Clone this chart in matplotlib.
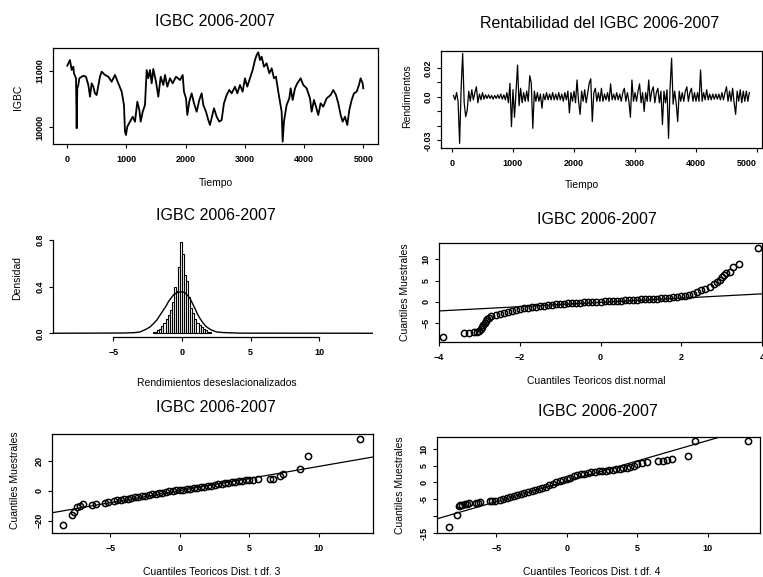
import numpy as np
import matplotlib.pyplot as plt

plt.rcParams['font.family'] = ['Liberation Sans', 'DejaVu Sans']

# ---- IGBC 2006-2007 ----
igbc_t = [5, 50, 79, 107, 118, 152, 163, 174, 191, 208, 275, 320, 360, 388, 416, 444, 472, 500, 556, 585,
          641, 697, 753, 809, 865, 922, 961, 978, 995, 1017, 1062, 1108, 1147, 1186, 1220, 1243, 1277, 1315, 1344, 1371,
          1400, 1428, 1455, 1501, 1540, 1580, 1624, 1653, 1692, 1737, 1782, 1838, 1906, 1951, 1973, 2007, 2029, 2062, 2102, 2142,
          2187, 2231, 2271, 2299, 2344, 2383, 2411, 2479, 2524, 2568, 2608, 2647, 2693, 2737, 2777, 2833,
          2872, 2917, 2962, 3002, 3040, 3086, 3131, 3170, 3199, 3226, 3255, 3283, 3322, 3367, 3412, 3452, 3491, 3524, 3563, 3592,
          3620, 3637, 3659, 3704, 3749, 3772, 3806, 3845, 3884, 3941, 3985, 4042, 4098, 4126, 4165, 4199, 4238, 4277, 4322, 4379,
          4446, 4491, 4536, 4575, 4615, 4649, 4688, 4727, 4761, 4801, 4840, 4885, 4924, 4952, 4986, 4997]
igbc_v = [11095, 11196, 11018, 11077, 10958, 10870, 9977, 10690, 10750, 10870, 10916, 10898, 10750, 10541, 10780, 10720, 10601, 10571, 10898, 10988,
          10929, 10898, 10809, 10929, 10780, 10631, 10393, 9916, 9857, 10006, 10095, 10184, 10095, 10452, 10303, 10095, 10273, 10393, 11018, 10870,
          11018, 10780, 11036, 10809, 10541, 10898, 10750, 10929, 10720, 10870, 10780, 10898, 10839, 10929, 10631, 10512, 10214, 10452, 10601, 10423,
          10273, 10482, 10601, 10393, 10273, 10125, 10036, 10334, 10184, 10095, 10125, 10423, 10571, 10661, 10601, 10720,
          10601, 10750, 10631, 10870, 10720, 10870, 11018, 11196, 11286, 11334, 11196, 11256, 11077, 11137, 10958, 11048, 10870, 10898, 10631, 10452,
          10273, 9737, 10095, 10393, 10512, 10690, 10482, 10690, 10780, 10870, 10750, 10690, 10512, 10273, 10482, 10363, 10214, 10423, 10363, 10512,
          10571, 10661, 10571, 10423, 10214, 10095, 10184, 10036, 10303, 10482, 10601, 10631, 10750, 10870, 10780, 10690]

# ---- rentabilidad, un valor cada 25 periodos ----
ret_paso = 25
ret_v = [0.001, -0.002, 0.003, -0.003, -0.032, 0.006, 0.030, -0.004, -0.0136, -0.009,
         0.004, -0.003, 0.005, -0.002, 0.003, 0.007, -0.004, 0.002, -0.002, 0.003,
         -0.0015, 0.0015, -0.001, 0.0015, -0.001, 0.001, -0.0015, 0.001, -0.001, 0.0015,
         -0.001, 0.002, -0.0015, 0.0015, -0.002, 0.003, -0.004, 0.0094, -0.0205, 0.005,
         -0.014, 0.004, 0.022, -0.006, 0.006, -0.004, 0.003, -0.003, 0.004, -0.003,
         0.0147, 0.0095, -0.0216, 0.004, -0.003, 0.003, -0.003, 0.002, -0.0078, 0.002,
         -0.002, 0.003, -0.002, 0.002, -0.002, 0.003, -0.002, 0.002, -0.002, 0.003,
         -0.002, 0.002, -0.003, 0.003, -0.002, 0.004, -0.011, 0.003, -0.003, 0.004,
         -0.004, 0.0117, -0.003, -0.012, 0.004, -0.003, 0.005, -0.004, 0.003, 0.0095,
         0.0125, -0.017, 0.003, 0.006, -0.003, 0.003, -0.003, 0.006, -0.003, 0.002,
         -0.002, 0.003, -0.003, 0.009, -0.002, 0.002, -0.002, 0.003, -0.002, 0.002,
         -0.003, 0.003, 0.006, -0.003, 0.003, -0.003, -0.014, 0.0117, -0.003, 0.003,
         -0.003, 0.004, 0.009, -0.004, 0.003, -0.010, 0.003, -0.003, 0.0117, -0.003,
         0.004, 0.007, -0.004, 0.003, 0.006, -0.004, 0.004, -0.019, 0.004, -0.004,
         0.005, -0.0285, 0.006, 0.0267, -0.005, 0.004, -0.004, -0.017, 0.004, -0.003,
         0.003, -0.003, 0.004, 0.007, -0.003, 0.003, 0.006, -0.003, 0.003, -0.003,
         0.003, -0.003, 0.0186, -0.003, 0.003, -0.002, 0.005, -0.002, 0.002, -0.002,
         0.002, -0.0015, 0.002, -0.0015, 0.002, -0.002, 0.003, -0.002, 0.003, 0.007,
         -0.003, 0.004, -0.003, 0.006, -0.004, -0.012, 0.004, -0.003, 0.005, -0.004,
         0.004, -0.003, 0.004, -0.003, 0.003]

# ---- histograma de rendimientos desestacionalizados ----
hist_ancho = 0.15
hist_centros = [-2.025, -1.875, -1.725, -1.575, -1.425, -1.275, -1.125, -0.975, -0.825, -0.675,
                -0.525, -0.375, -0.225, -0.075, 0.075, 0.225, 0.375, 0.525, 0.675, 0.825,
                0.975, 1.125, 1.275, 1.425, 1.575, 1.725, 1.875, 2.025]
hist_alto = [0.01, 0.015, 0.025, 0.04, 0.06, 0.09, 0.12, 0.16, 0.2, 0.27,
             0.4, 0.36, 0.57, 0.78, 0.68, 0.5, 0.45, 0.31, 0.22, 0.17,
             0.12, 0.09, 0.07, 0.05, 0.035, 0.025, 0.015, 0.01]
dens_x = [-9.4, -4.3, -3.5, -3.06, -2.6, -2.33, -2.1, -1.84, -1.6, -1.36, -1.15, -0.99, -0.8, -0.63, -0.5, -0.34,
          -0.1, 0.05, 0.21, 0.4, 0.58, 0.75, 0.94, 1.1, 1.31, 1.55, 1.79, 2.1, 2.52, 3.0, 3.5, 4.2, 13.9]
dens_y = [0.0, 0.002, 0.005, 0.011, 0.035, 0.054, 0.08, 0.112, 0.155, 0.198, 0.235, 0.27, 0.30, 0.327, 0.338, 0.347,
          0.354, 0.354, 0.347, 0.325, 0.298, 0.258, 0.212, 0.17, 0.126, 0.085, 0.054, 0.03, 0.011, 0.006, 0.004, 0.001, 0.0]

# ---- QQ normal ----
qqn_x = [-3.9, -3.37, -3.25, -3.13, -3.05, -3.0, -2.96, -2.93, -2.9, -2.87, -2.84, -2.8, -2.75, -2.7, -2.6, -2.5,
         -2.4, -2.3, -2.2, -2.1, -2.0, -1.9, -1.8, -1.7, -1.6, -1.5, -1.4, -1.3, -1.2, -1.1, -1.0, -0.9, -0.8, -0.7,
         -0.6, -0.5, -0.4, -0.3, -0.2, -0.1, 0.0, 0.1, 0.2, 0.3, 0.4, 0.5, 0.6, 0.7, 0.8, 0.9, 1.0, 1.1, 1.2, 1.3,
         1.4, 1.5, 1.6, 1.7, 1.8, 1.9, 2.0, 2.1, 2.2, 2.3, 2.4, 2.5, 2.6, 2.7, 2.8, 2.88, 2.95, 3.0, 3.05, 3.1,
         3.2, 3.28, 3.42, 3.91]
qqn_y = [-8.1, -7.3, -7.3, -7.1, -7.0, -6.8, -6.4, -5.9, -5.4, -4.9, -4.5, -4.1, -3.7, -3.4, -3.0, -2.7,
         -2.5, -2.3, -2.05, -1.85, -1.65, -1.5, -1.35, -1.2, -1.1, -0.95, -0.85, -0.75, -0.65, -0.55, -0.5, -0.4, -0.35, -0.25,
         -0.2, -0.15, -0.1, -0.05, 0.0, 0.03, 0.07, 0.12, 0.16, 0.2, 0.25, 0.3, 0.35, 0.4, 0.45, 0.52, 0.58, 0.64, 0.7, 0.75,
         0.8, 0.88, 0.95, 1.02, 1.1, 1.2, 1.32, 1.48, 1.7, 1.98, 2.35, 2.75, 3.15, 3.6, 4.15, 4.6, 5.2, 5.8, 6.4, 6.8,
         6.9, 8.2, 8.8, 12.6]
qqn_linea = (-0.1, 0.5)  # intercepto, pendiente

# ---- QQ t con 3 g.l. ----
qq3_x = [-8.39, -7.79, -7.63, -7.43, -7.2, -6.96, -6.3, -6.0, -5.4, -5.16,
         -4.75, -4.5, -4.25, -4.0, -3.75, -3.5, -3.25, -3.0, -2.75, -2.5, -2.25, -2.0, -1.75, -1.5, -1.25,
         -1.0, -0.75, -0.5, -0.25, 0.0, 0.25, 0.5, 0.75, 1.0, 1.25, 1.5, 1.75, 2.0, 2.25, 2.5, 2.75, 3.0,
         3.25, 3.5, 3.75, 4.0, 4.25, 4.5, 4.75, 5.0, 5.3, 5.64,
         6.47, 6.7, 7.19, 7.43, 8.63, 9.23, 12.95]
qq3_y = [-22.9, -16.2, -14.0, -11.1, -10.2, -8.9, -9.3, -9.0, -7.9, -7.5,
         -6.9, -6.5, -6.1, -5.7, -5.2, -4.7, -4.3, -3.9, -3.5, -3.2, -2.9, -2.5, -2.1, -1.7, -1.2,
         -0.7, -0.3, 0.0, 0.2, 0.4, 0.6, 0.9, 1.2, 1.5, 1.8, 2.2, 2.6, 3.0, 3.4, 3.9, 4.3, 4.7,
         5.1, 5.4, 5.8, 6.1, 6.4, 6.7, 7.0, 7.2, 7.4, 7.5,
         8.1, 8.1, 9.7, 11.0, 14.4, 23.2, 34.3]
qq3_linea = (0.1, 1.61)

# ---- QQ t con 4 g.l. ----
qq4_x = [-8.37, -7.78, -7.66, -7.55, -7.45, -7.24, -7.05, -6.93, -6.41, -6.3, -6.17, -5.46, -5.3, -5.1,
         -4.75, -4.5, -4.25, -4.0, -3.75, -3.5, -3.25, -3.0, -2.75, -2.5, -2.25, -2.0, -1.75, -1.5, -1.25,
         -1.0, -0.75, -0.5, -0.25, 0.0, 0.25, 0.5, 0.75, 1.0, 1.25, 1.5, 1.75, 2.0, 2.25, 2.5, 2.75, 3.0,
         3.25, 3.5, 3.75, 4.0, 4.25, 4.5, 4.75, 4.96, 5.3, 5.67,
         6.5, 6.8, 7.1, 7.45, 8.61, 9.09, 12.87]
qq4_y = [-13.3, -9.6, -7.0, -6.8, -6.6, -6.4, -6.3, -6.1, -6.1, -6.0, -5.9, -5.6, -5.6, -5.5,
         -5.1, -4.8, -4.5, -4.2, -3.9, -3.6, -3.35, -3.1, -2.8, -2.5, -2.2, -1.9, -1.6, -1.2, -0.8,
         -0.4, 0.0, 0.4, 0.8, 1.1, 1.4, 1.8, 2.1, 2.4, 2.6, 2.8, 3.0, 3.2, 3.3, 3.45, 3.55, 3.65,
         3.8, 3.9, 4.0, 4.15, 4.3, 4.5, 5.0, 5.6, 5.8, 6.0,
         6.3, 6.4, 6.8, 7.0, 8.0, 12.2, 12.2]
qq4_linea = (0.35, 1.21)

titulo = "IGBC 2006-2007"

W, H = 763, 577
fig = plt.figure(figsize=(W / 100, H / 100), dpi=100)


def caja(l, t, r, b):
    return fig.add_axes([l / W, 1 - b / H, (r - l) / W, (b - t) / H])


def textos(ax, tit, tpos, xlab, xpos, ylab, ypos):
    fig.text(tpos[0] / W, 1 - tpos[1] / H, tit, fontsize=11.5, ha='center', va='center')
    ax.set_xlabel(xlab, fontsize=7.5)
    ax.xaxis.set_label_coords(xpos[0] / W, 1 - xpos[1] / H, transform=fig.transFigure)
    ax.xaxis.label.set_va('center')
    ax.set_ylabel(ylab, fontsize=7.5)
    ax.yaxis.set_label_coords(ypos[0] / W, 1 - ypos[1] / H, transform=fig.transFigure)
    ax.yaxis.label.set_va('center')


def ejes(ax):
    ax.tick_params(direction='out', length=3, width=0.8, labelsize=6.5, color='black')
    ax.tick_params(axis='x', pad=5)
    ax.tick_params(axis='y', pad=3, labelrotation=90)
    plt.setp(ax.get_xticklabels(), fontweight='bold')
    plt.setp(ax.get_yticklabels(), fontweight='bold', va='center')
    for s in ax.spines.values():
        s.set_linewidth(0.9)


# 1. serie del IGBC
ax1 = caja(53, 48, 378, 144)
ax1.plot(igbc_t, igbc_v, color='black', lw=1.3)
ax1.set_xlim(-236, 5245)
ax1.set_ylim(9696, 11411)
ax1.set_xticks([0, 1000, 2000, 3000, 4000, 5000])
ax1.set_yticks([10000, 11000])
ejes(ax1)
textos(ax1, titulo, (215, 21), "Tiempo", (216, 183), "IGBC", (18, 97))

# 2. rentabilidad
ax2 = caja(441, 51, 762, 148)
ret_t = np.arange(1, len(ret_v) + 1) * ret_paso
ax2.plot(ret_t, ret_v, color='black', lw=0.9)
ax2.set_xlim(-180, 5082)
ax2.set_ylim(-0.0352, 0.0317)
ax2.set_xticks([0, 1000, 2000, 3000, 4000, 5000])
ax2.set_yticks([-0.03, -0.02, -0.01, 0.0, 0.01, 0.02])
ax2.set_yticklabels(['-0.03', '', '', '0.0', '', '0.02'])
ejes(ax2)
ax2.get_xticklabels()[-1].set_ha('right')
textos(ax2, "Rentabilidad del IGBC 2006-2007", (600, 24), "Tiempo", (582, 185), "Rendimientos", (407, 96))

# 3. histograma
ax3 = caja(53, 236, 373, 337)
ax3.bar(hist_centros, hist_alto, width=hist_ancho, facecolor='white', edgecolor='black', lw=0.8)
ax3.plot(dens_x, dens_y, color='black', lw=1.0)
ax3.set_xlim(-9.39, 13.9)
ax3.set_ylim(-0.032, 0.832)
ax3.set_xticks([-5, 0, 5, 10])
ax3.set_yticks([0.0, 0.4, 0.8])
ax3.set_yticklabels(['0.0', '0.4', '0.8'])
ax3.spines['top'].set_visible(False)
ax3.spines['right'].set_visible(False)
ax3.spines['bottom'].set_bounds(-5, 10)
ax3.spines['left'].set_bounds(0, 0.8)
ejes(ax3)
textos(ax3, titulo, (216, 215), "Rendimientos deseslacionalizados", (217, 383), "Densidad", (17, 278))

# 4-6. graficos QQ
paneles = [
    ((439, 243, 762, 342), qqn_x, qqn_y, qqn_linea, (-3.98, 4.0), (-9.37, 13.8),
     [-4, -2, 0, 2, 4], [-5, 0, 5, 10], None,
     (597, 219), "Cuantiles Teoricos dist.normal", (596, 381), (405, 292)),
    ((52, 434, 373, 533), qq3_x, qq3_y, qq3_linea, (-9.2, 13.9), (-28.2, 37.8),
     [-5, 0, 5, 10], [-20, 0, 20], None,
     (216, 407), "Cuantiles Teoricos Dist. t df. 3", (212, 572), (15, 480)),
    ((437, 437, 760, 533), qq4_x, qq4_y, qq4_linea, (-9.2, 13.7), (-14.7, 13.5),
     [-5, 0, 5, 10], [-15, -10, -5, 0, 5, 10], ['-15', '', '-5', '0', '5', '10'],
     (598, 411), "Cuantiles Teoricos Dist. t df. 4", (592, 572), (400, 485)),
]
for (px, qx, qy, linea, xl, yl, xt, yt, ytl, tpos, xlab, xpos, ypos) in paneles:
    ax = caja(*px)
    ax.plot(qx, qy, 'o', mfc='none', mec='black', ms=4.5, mew=1.1)
    ax.axline((0, linea[0]), slope=linea[1], color='black', lw=0.9)
    ax.set_xlim(*xl)
    ax.set_ylim(*yl)
    ax.set_xticks(xt)
    ax.set_yticks(yt)
    if ytl is not None:
        ax.set_yticklabels(ytl)
    ejes(ax)
    textos(ax, titulo, tpos, xlab, xpos, "Cuantiles Muestrales", ypos)

plt.savefig("out.png", dpi=100)
